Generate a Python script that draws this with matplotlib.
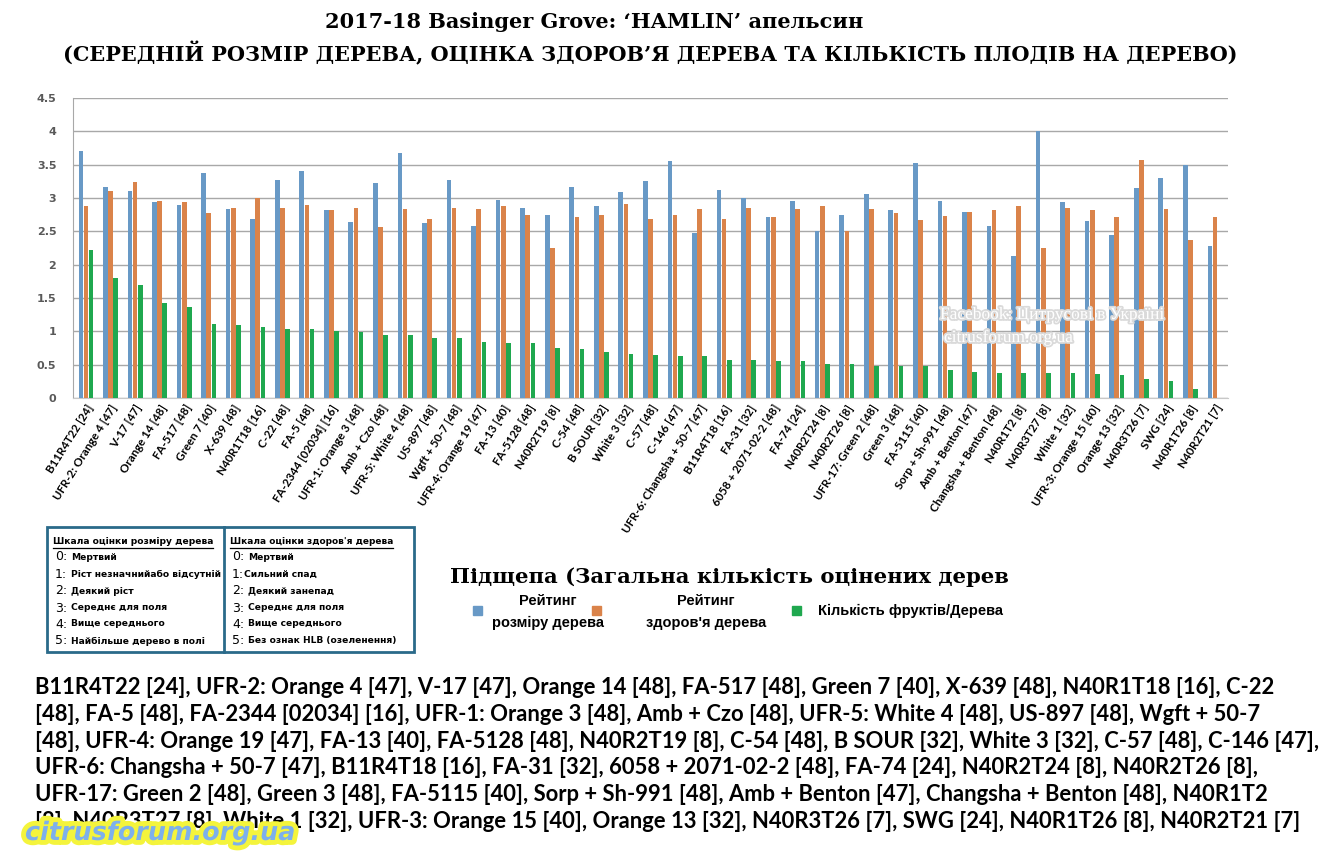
import matplotlib
matplotlib.use('Agg')
import matplotlib.pyplot as plt
import matplotlib.patheffects as pe
from matplotlib.patches import Rectangle
import numpy as np

# rootstock [number of trees]
labels = ['B11R4T22 [24]', 'UFR-2: Orange 4 [47]', 'V-17 [47]', 'Orange 14 [48]', 'FA-517 [48]',
          'Green 7 [40]', 'X-639 [48]', 'N40R1T18 [16]', 'C-22 [48]', 'FA-5 [48]',
          'FA-2344 [02034] [16]', 'UFR-1: Orange 3 [48]', 'Amb + Czo [48]', 'UFR-5: White 4 [48]',
          'US-897 [48]', 'Wgft + 50-7 [48]', 'UFR-4: Orange 19 [47]', 'FA-13 [40]', 'FA-5128 [48]',
          'N40R2T19 [8]', 'C-54 [48]', 'B SOUR [32]', 'White 3 [32]', 'C-57 [48]', 'C-146 [47]',
          'UFR-6: Changsha + 50-7 [47]', 'B11R4T18 [16]', 'FA-31 [32]', '6058 + 2071-02-2 [48]',
          'FA-74 [24]', 'N40R2T24 [8]', 'N40R2T26 [8]', 'UFR-17: Green 2 [48]', 'Green 3 [48]',
          'FA-5115 [40]', 'Sorp + Sh-991 [48]', 'Amb + Benton [47]', 'Changsha + Benton [48]',
          'N40R1T2 [8]', 'N40R3T27 [8]', 'White 1 [32]', 'UFR-3: Orange 15 [40]', 'Orange 13 [32]',
          'N40R3T26 [7]', 'SWG [24]', 'N40R1T26 [8]', 'N40R2T21 [7]']

size_rating = [3.70, 3.16, 3.10, 2.94, 2.89, 3.37, 2.83, 2.68, 3.27, 3.40,
               2.82, 2.64, 3.22, 3.67, 2.62, 3.27, 2.58, 2.97, 2.85, 2.74,
               3.16, 2.88, 3.09, 3.25, 3.55, 2.47, 3.12, 3.00, 2.71, 2.95,
               2.50, 2.74, 3.06, 2.82, 3.52, 2.95, 2.79, 2.58, 2.13, 4.00,
               2.94, 2.65, 2.44, 3.15, 3.30, 3.50, 2.28]
health_rating = [2.88, 3.10, 3.24, 2.95, 2.94, 2.77, 2.85, 3.00, 2.85, 2.89,
                 2.82, 2.85, 2.56, 2.83, 2.68, 2.85, 2.83, 2.88, 2.74, 2.25,
                 2.71, 2.74, 2.91, 2.68, 2.74, 2.83, 2.68, 2.85, 2.71, 2.83,
                 2.88, 2.50, 2.83, 2.77, 2.67, 2.73, 2.79, 2.82, 2.88, 2.25,
                 2.85, 2.82, 2.71, 3.57, 2.83, 2.37, 2.71]
fruit_per_tree = [2.22, 1.80, 1.69, 1.42, 1.36, 1.11, 1.09, 1.06, 1.03, 1.03,
                  1.00, 0.99, 0.94, 0.94, 0.90, 0.90, 0.84, 0.82, 0.82, 0.75,
                  0.73, 0.69, 0.66, 0.64, 0.63, 0.63, 0.57, 0.57, 0.55, 0.55,
                  0.51, 0.51, 0.48, 0.48, 0.48, 0.42, 0.39, 0.37, 0.37, 0.37,
                  0.37, 0.36, 0.34, 0.28, 0.25, 0.13, 0.0]

size_scale = ['Мертвий', 'Ріст незначнийабо відсутній', 'Деякий ріст', 'Середнє для поля',
              'Вище середнього', 'Найбільше дерево в полі']
health_scale = ['Мертвий', 'Сильний спад', 'Деякий занепад', 'Середнє для поля',
                'Вище середнього', 'Без ознак HLB (озеленення)']

blue = '#6899C6'
orange = '#DA834A'
green = '#1FA84F'

W, H = 1342, 866
fig = plt.figure(figsize=(W / 100, H / 100), dpi=100)
ax = fig.add_axes([73 / W, 1 - 398 / H, 1155 / W, 300 / H])

x = np.arange(len(labels))
bw = 0.19
ax.bar(x - 0.21, size_rating, bw, color=blue, zorder=3)
ax.bar(x, health_rating, bw, color=orange, zorder=3)
ax.bar(x + 0.21, fruit_per_tree, bw, color=green, zorder=3)

ax.set_xlim(-0.53, len(labels) - 0.47)
ax.set_ylim(0, 4.5)
yt = np.arange(0, 4.51, 0.5)
ax.set_yticks(yt)
ax.set_yticklabels([('%g' % v) for v in yt], color='#595959', fontsize=8, fontweight='bold')
ax.yaxis.grid(True, color='#A8A8A8', lw=1)
ax.set_axisbelow(True)
for s in ['top', 'right']:
    ax.spines[s].set_visible(False)
ax.spines['left'].set_color('#A8A8A8')
ax.spines['bottom'].set_color('#C8C8C8')
ax.tick_params(length=0)
ax.tick_params(axis='y', pad=12)
ax.set_xticks(x)
ax.set_xticklabels(labels, rotation=58, ha='right', rotation_mode='anchor',
                   fontsize=8.3, fontweight='bold', family='Lato')

# overlay in pixel coordinates
ov = fig.add_axes([0, 0, 1, 1])
ov.set_xlim(0, W)
ov.set_ylim(H, 0)
ov.axis('off')
rend = fig.canvas.get_renderer()


def fit(t, width):
    bb = t.get_window_extent(rend)
    t.set_fontsize(t.get_fontsize() * width / bb.width)
    return t


serif = 'DejaVu Serif'
fit(ov.text(594, 22, '2017-18 Basinger Grove: ‘HAMLIN’ апельсин', ha='center', va='center',
            family=serif, fontweight='bold', fontsize=14), 537)
fit(ov.text(650, 53, '(СЕРЕДНІЙ РОЗМІР ДЕРЕВА, ОЦІНКА ЗДОРОВ’Я ДЕРЕВА ТА КІЛЬКІСТЬ ПЛОДІВ НА ДЕРЕВО)',
            ha='center', va='center', family=serif, fontweight='bold', fontsize=14), 1176)
fit(ov.text(450, 577, 'Підщепа (Загальна кількість оцінених дерев', ha='left', va='center',
            family=serif, fontweight='bold', fontsize=14), 558)

# faint watermark in the plot
for txt, xx, yy in [('Facebook: Цитрусові в Україні', 940, 315), ('citrusforum.org.ua', 944, 338)]:
    ov.text(xx, yy, txt, family='Liberation Serif', fontsize=12.5, color='white', va='center',
            path_effects=[pe.withStroke(linewidth=2.5, foreground='#DADADA')])

# scale table
ov.add_patch(Rectangle((47, 527), 367, 125, fill=False, ec='#2A6A8A', lw=2))
ov.plot([224, 224], [527, 652], color='#2A6A8A', lw=2)
rows_y = [557, 574, 591, 608, 624, 641]
for x0, head, items in [(53, 'Шкала оцінки розміру дерева', size_scale),
                        (230, 'Шкала оцінки здоров\'я дерева', health_scale)]:
    h = fit(ov.text(x0, 541, head, family='DejaVu Sans', fontweight='bold', fontsize=7,
                    va='center'), 163)
    bb = h.get_window_extent(rend)
    ov.plot([x0, x0 + bb.width], [547.5, 547.5], color='black', lw=0.9)
    for i, (yy, it) in enumerate(zip(rows_y, items)):
        d = ov.text(x0 + 2, yy, '%d:' % i, family='DejaVu Sans', fontsize=9, va='center')
        dw = d.get_window_extent(rend).width
        gap = 0 if (x0 > 200 and i == 1) else 4
        ov.text(x0 + 2 + dw + gap, yy, it, family='DejaVu Sans', fontweight='bold',
                fontsize=6.6, va='center')

# legend
leg_font = dict(family='Liberation Sans', fontweight='bold', fontsize=10.5, va='center')
for cx, col in [(473, blue), (592, orange), (792, green)]:
    ov.add_patch(Rectangle((cx, 606), 9, 9, color=col))
ov.text(548, 601, 'Рейтинг', ha='center', **leg_font)
ov.text(548, 623, 'розміру дерева', ha='center', **leg_font)
ov.text(706, 601, 'Рейтинг', ha='center', **leg_font)
ov.text(706, 623, 'здоров\'я дерева', ha='center', **leg_font)
ov.text(818, 611, 'Кількість фруктів/Дерева', ha='left', **leg_font)

# list of rootstocks below
lines = [
    'B11R4T22 [24], UFR-2: Orange 4 [47], V-17 [47], Orange 14 [48], FA-517 [48], Green 7 [40], X-639 [48], N40R1T18 [16], C-22',
    '[48], FA-5 [48], FA-2344 [02034] [16], UFR-1: Orange 3 [48], Amb + Czo [48], UFR-5: White 4 [48], US-897 [48], Wgft + 50-7',
    '[48], UFR-4: Orange 19 [47], FA-13 [40], FA-5128 [48], N40R2T19 [8], C-54 [48], B SOUR [32], White 3 [32], C-57 [48], C-146 [47],',
    'UFR-6: Changsha + 50-7 [47], B11R4T18 [16], FA-31 [32], 6058 + 2071-02-2 [48], FA-74 [24], N40R2T24 [8], N40R2T26 [8],',
    'UFR-17: Green 2 [48], Green 3 [48], FA-5115 [40], Sorp + Sh-991 [48], Amb + Benton [47], Changsha + Benton [48], N40R1T2',
    '[8], N40R3T27 [8], White 1 [32], UFR-3: Orange 15 [40], Orange 13 [32], N40R3T26 [7], SWG [24], N40R1T26 [8], N40R2T21 [7]',
]
t0 = fit(ov.text(35, 688, lines[0], family='Lato', fontweight='bold', fontsize=14, va='center'), 1240)
fs = t0.get_fontsize()
for i, ln in enumerate(lines[1:], start=1):
    ov.text(35, 688 + i * 26.6, ln, family='Lato', fontweight='bold', fontsize=fs, va='center')

fit(ov.text(25, 833, 'citrusforum.org.ua', family='DejaVu Sans', style='italic', fontweight='bold',
            fontsize=20, color='#7DB0EC', va='center',
            path_effects=[pe.withStroke(linewidth=7, foreground='#F4F43C')]), 270)

fig.savefig('out.png', dpi=100)
